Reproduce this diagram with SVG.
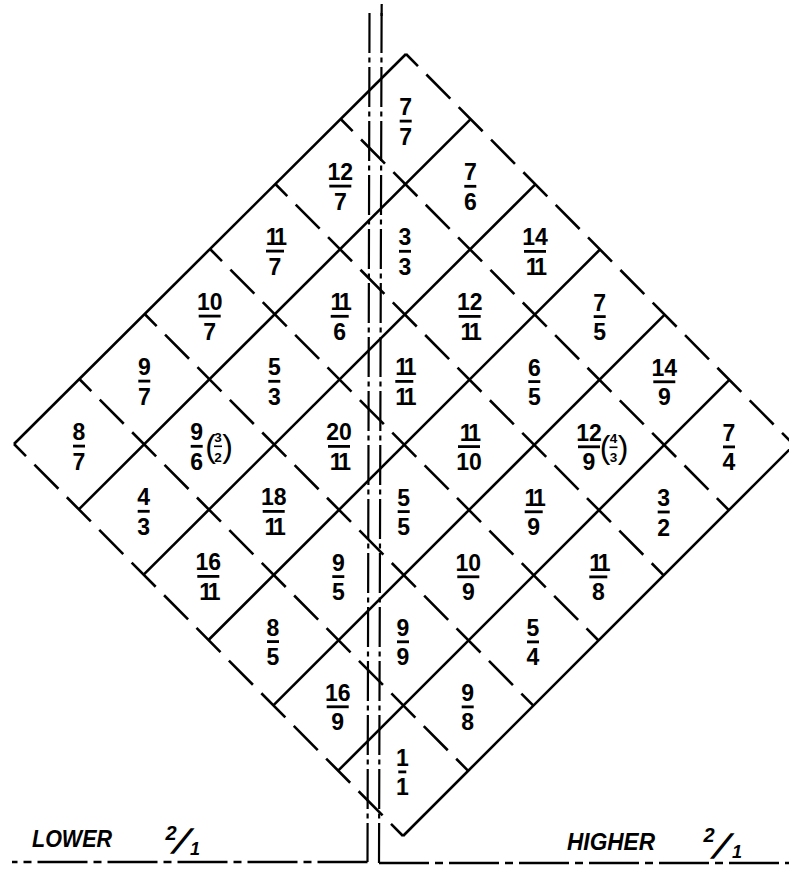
<svg xmlns="http://www.w3.org/2000/svg" width="789" height="869" viewBox="0 0 789 869">
<style>
.s{stroke:#000;stroke-width:2.6;fill:none}
.d{stroke:#000;stroke-width:2.6;fill:none;stroke-dasharray:.74 .26;stroke-dashoffset:.37}
.v{stroke:#000;stroke-width:2.2;fill:none;stroke-dasharray:40 4.5 5 4.5}
.v0{stroke:#000;stroke-width:2.2;fill:none}
.h{stroke:#000;stroke-width:2.4;fill:none;stroke-dasharray:50 6 8 6}
.f{font-family:"Liberation Sans",Arial,sans-serif;font-weight:bold;font-size:23px;text-anchor:middle;fill:#000}
.e{letter-spacing:-3px}
.b{stroke:#000;stroke-width:2.8}
.bs{stroke:#000;stroke-width:1.6}
.sm{font-size:13.5px}
.p{font-family:"Liberation Sans",Arial,sans-serif;font-weight:normal;font-size:32px;text-anchor:middle;fill:#000}
.lab{font-family:"Liberation Sans",Arial,sans-serif;font-weight:bold;font-style:italic;font-size:24px;fill:#000}
.oc{font-family:"Liberation Sans",Arial,sans-serif;font-weight:bold;font-style:italic;fill:#000;text-anchor:middle}
.sl{font-family:"Liberation Sans",Arial,sans-serif;font-weight:bold;font-size:34px;fill:#000}
</style>
<g id="grid">
<path class="s" d="M406,54 L14,444"/>
<path class="s" d="M470.67,119.17 L78.83,509.33"/>
<path class="s" d="M535.33,184.33 L143.67,574.67"/>
<path class="s" d="M600,249.5 L208.5,640"/>
<path class="s" d="M664.67,314.67 L273.33,705.33"/>
<path class="s" d="M729.33,379.83 L338.17,770.67"/>
<path class="s" d="M794,445 L403,836"/>
<path class="d" pathLength="12" d="M406,54 L794,445"/>
<path class="d" pathLength="12" d="M340.67,119 L728.83,510.17"/>
<path class="d" pathLength="12" d="M275.33,184 L663.67,575.33"/>
<path class="d" pathLength="12" d="M210,249 L598.5,640.5"/>
<path class="d" pathLength="12" d="M144.67,314 L533.33,705.67"/>
<path class="d" pathLength="12" d="M79.33,379 L468.17,770.83"/>
<path class="d" pathLength="12" d="M14,444 L403,836"/>
</g>
<g id="octave-lines">
<path class="v" d="M369.5,13 L367.5,862"/>
<path class="v" d="M381.6,13 L379,863"/>
<path class="v0" d="M381.7,4 L381.6,16"/>
<path class="h" d="M367.5,862 L12,862"/>
<path class="h" d="M379,863 L789,863"/>
</g>
<g id="r7-7" transform="translate(405.7,119.1)"><text class="f" y="-4">7</text><line class="b" x1="-6" x2="6" y1="2" y2="2"/><text class="f" y="25.5">7</text></g>
<g id="r12-7" transform="translate(340.3,184.1)"><text class="f" y="-4">12</text><line class="b" x1="-11" x2="11" y1="2" y2="2"/><text class="f" y="25.5">7</text></g>
<g id="r7-6" transform="translate(470.3,184.3)"><text class="f" y="-4">7</text><line class="b" x1="-6" x2="6" y1="2" y2="2"/><text class="f" y="25.5">6</text></g>
<g id="r11-7" transform="translate(275,249.1)"><text class="f e" y="-4">11</text><line class="b" x1="-9" x2="9" y1="2" y2="2"/><text class="f" y="25.5">7</text></g>
<g id="r3-3" transform="translate(405,249.3)"><text class="f" y="-4">3</text><line class="b" x1="-6" x2="6" y1="2" y2="2"/><text class="f" y="25.5">3</text></g>
<g id="r14-11" transform="translate(535,249.4)"><text class="f" y="-4">14</text><line class="b" x1="-11" x2="11" y1="2" y2="2"/><text class="f e" y="25.5">11</text></g>
<g id="r10-7" transform="translate(209.7,314.1)"><text class="f" y="-4">10</text><line class="b" x1="-11" x2="11" y1="2" y2="2"/><text class="f" y="25.5">7</text></g>
<g id="r11-6" transform="translate(339.7,314.3)"><text class="f e" y="-4">11</text><line class="b" x1="-9" x2="9" y1="2" y2="2"/><text class="f" y="25.5">6</text></g>
<g id="r12-11" transform="translate(469.7,314.4)"><text class="f" y="-4">12</text><line class="b" x1="-11" x2="11" y1="2" y2="2"/><text class="f e" y="25.5">11</text></g>
<g id="r7-5" transform="translate(599.7,314.6)"><text class="f" y="-4">7</text><line class="b" x1="-6" x2="6" y1="2" y2="2"/><text class="f" y="25.5">5</text></g>
<g id="r9-7" transform="translate(144.3,379.1)"><text class="f" y="-4">9</text><line class="b" x1="-6" x2="6" y1="2" y2="2"/><text class="f" y="25.5">7</text></g>
<g id="r5-3" transform="translate(274.3,379.3)"><text class="f" y="-4">5</text><line class="b" x1="-6" x2="6" y1="2" y2="2"/><text class="f" y="25.5">3</text></g>
<g id="r11-11" transform="translate(404.3,379.4)"><text class="f e" y="-4">11</text><line class="b" x1="-9" x2="9" y1="2" y2="2"/><text class="f e" y="25.5">11</text></g>
<g id="r6-5" transform="translate(534.3,379.6)"><text class="f" y="-4">6</text><line class="b" x1="-6" x2="6" y1="2" y2="2"/><text class="f" y="25.5">5</text></g>
<g id="r14-9" transform="translate(664.3,379.8)"><text class="f" y="-4">14</text><line class="b" x1="-11" x2="11" y1="2" y2="2"/><text class="f" y="25.5">9</text></g>
<g id="r8-7" transform="translate(79,444.1)"><text class="f" y="-4">8</text><line class="b" x1="-6" x2="6" y1="2" y2="2"/><text class="f" y="25.5">7</text></g>
<g id="r9-6" transform="translate(209,444.3)"><text class="f" x="-12.3" y="-4">9</text><line class="b" x1="-18.3" x2="-6.3" y1="2" y2="2"/><text class="f" x="-12.3" y="25.5">6</text><text class="p" x="1.5" y="13">(</text><text class="f sm" x="9" y="-2.6">3</text><line class="bs" x1="5" x2="13" y1="2" y2="2"/><text class="f sm" x="9" y="17.4">2</text><text class="p" x="18.5" y="13">)</text></g>
<g id="r20-11" transform="translate(339,444.4)"><text class="f" y="-4">20</text><line class="b" x1="-11" x2="11" y1="2" y2="2"/><text class="f e" y="25.5">11</text></g>
<g id="r11-10" transform="translate(469,444.6)"><text class="f e" y="-4">11</text><line class="b" x1="-11" x2="11" y1="2" y2="2"/><text class="f" y="25.5">10</text></g>
<g id="r12-9" transform="translate(599,444.8)"><text class="f" x="-10" y="-4">12</text><line class="b" x1="-21" x2="1" y1="2" y2="2"/><text class="f" x="-10" y="25.5">9</text><text class="p" x="6" y="13">(</text><text class="f sm" x="14.5" y="-2">4</text><line class="bs" x1="10.5" x2="18.5" y1="2.5" y2="2.5"/><text class="f sm" x="14.5" y="17">3</text><text class="p" x="24" y="13">)</text></g>
<g id="r7-4" transform="translate(729,444.9)"><text class="f" y="-4">7</text><line class="b" x1="-6" x2="6" y1="2" y2="2"/><text class="f" y="25.5">4</text></g>
<g id="r4-3" transform="translate(143.7,509.3)"><text class="f" y="-4">4</text><line class="b" x1="-6" x2="6" y1="2" y2="2"/><text class="f" y="25.5">3</text></g>
<g id="r18-11" transform="translate(273.7,509.4)"><text class="f" y="-4">18</text><line class="b" x1="-11" x2="11" y1="2" y2="2"/><text class="f e" y="25.5">11</text></g>
<g id="r5-5" transform="translate(403.7,509.6)"><text class="f" y="-4">5</text><line class="b" x1="-6" x2="6" y1="2" y2="2"/><text class="f" y="25.5">5</text></g>
<g id="r11-9" transform="translate(533.7,509.8)"><text class="f e" y="-4">11</text><line class="b" x1="-9" x2="9" y1="2" y2="2"/><text class="f" y="25.5">9</text></g>
<g id="r3-2" transform="translate(663.7,510)"><text class="f" y="-4">3</text><line class="b" x1="-6" x2="6" y1="2" y2="2"/><text class="f" y="25.5">2</text></g>
<g id="r16-11" transform="translate(208.3,574.4)"><text class="f" y="-4">16</text><line class="b" x1="-11" x2="11" y1="2" y2="2"/><text class="f e" y="25.5">11</text></g>
<g id="r9-5" transform="translate(338.3,574.6)"><text class="f" y="-4">9</text><line class="b" x1="-6" x2="6" y1="2" y2="2"/><text class="f" y="25.5">5</text></g>
<g id="r10-9" transform="translate(468.3,574.8)"><text class="f" y="-4">10</text><line class="b" x1="-11" x2="11" y1="2" y2="2"/><text class="f" y="25.5">9</text></g>
<g id="r11-8" transform="translate(598.3,574.9)"><text class="f e" y="-4">11</text><line class="b" x1="-9" x2="9" y1="2" y2="2"/><text class="f" y="25.5">8</text></g>
<g id="r8-5" transform="translate(273,639.6)"><text class="f" y="-4">8</text><line class="b" x1="-6" x2="6" y1="2" y2="2"/><text class="f" y="25.5">5</text></g>
<g id="r9-9" transform="translate(403,639.8)"><text class="f" y="-4">9</text><line class="b" x1="-6" x2="6" y1="2" y2="2"/><text class="f" y="25.5">9</text></g>
<g id="r5-4" transform="translate(533,639.9)"><text class="f" y="-4">5</text><line class="b" x1="-6" x2="6" y1="2" y2="2"/><text class="f" y="25.5">4</text></g>
<g id="r16-9" transform="translate(337.7,704.8)"><text class="f" y="-4">16</text><line class="b" x1="-11" x2="11" y1="2" y2="2"/><text class="f" y="25.5">9</text></g>
<g id="r9-8" transform="translate(467.7,704.9)"><text class="f" y="-4">9</text><line class="b" x1="-6" x2="6" y1="2" y2="2"/><text class="f" y="25.5">8</text></g>
<g id="r1-1" transform="translate(402.3,769.9)"><text class="f" y="-4">1</text><line class="b" x1="-4" x2="4" y1="2" y2="2"/><text class="f" y="25.5">1</text></g>
<g id="lower">
<text class="lab" x="32" y="847" textLength="80" lengthAdjust="spacingAndGlyphs">LOWER</text>
<text class="oc" x="171" y="840" font-size="20">2</text>
<text class="sl" transform="translate(170,853) skewX(-32)">/</text>
<text class="oc" x="195" y="855" font-size="18">1</text>
</g>
<g id="higher">
<text class="lab" x="567" y="850" textLength="88" lengthAdjust="spacingAndGlyphs">HIGHER</text>
<text class="oc" x="709" y="842" font-size="20">2</text>
<text class="sl" transform="translate(710,858) skewX(-32)">/</text>
<text class="oc" x="737" y="858" font-size="18">1</text>
</g>
</svg>
